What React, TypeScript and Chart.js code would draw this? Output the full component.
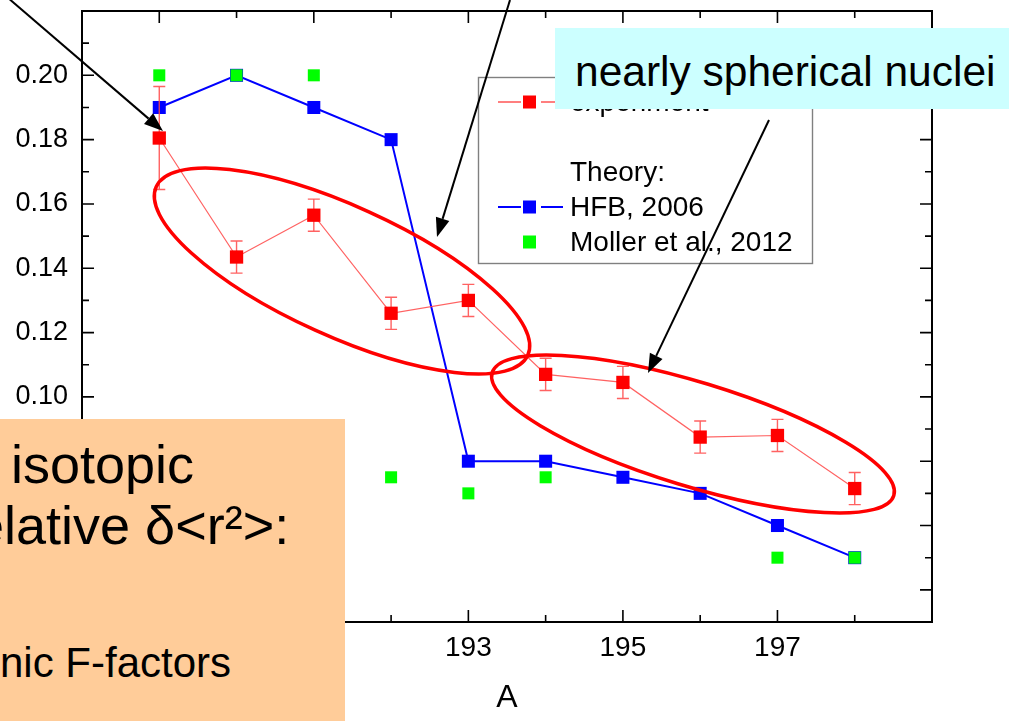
import React, { useEffect, useRef } from "react";
import { Chart, registerables } from "chart.js";

Chart.register(...registerables);

// ---------- data ----------
const massNumbers = [189, 190, 191, 192, 193, 194, 195, 196, 197, 198];
const experimentValues = [0.1805, 0.1435, 0.1565, 0.126, 0.13, 0.107, 0.1045, 0.0875, 0.088, 0.0715];
const experimentErrors = [0.016, 0.005, 0.005, 0.005, 0.005, 0.005, 0.005, 0.005, 0.005, 0.005];
const hfbValues = [0.19, 0.2, 0.19, 0.18, 0.08, 0.08, 0.075, 0.07, 0.06, 0.05];
const mollerMassNumbers = [189, 190, 191, 192, 193, 194, 197, 198];
const mollerValues = [0.2, 0.2, 0.2, 0.075, 0.07, 0.075, 0.05, 0.05];
const xTickLabels = [189, 191, 193, 195, 197];
const yTickLabels = [0.04, 0.06, 0.08, 0.1, 0.12, 0.14, 0.16, 0.18, 0.2];
const legendLabels = ["experiment", "Theory:", "HFB, 2006", "Moller et al., 2012"];

const FONT = '"Liberation Sans", Arial, Helvetica, sans-serif';
const RED = "#ff0000";
const RED_LIGHT = "rgba(255,70,70,0.85)";
const BLUE = "#0000ff";
const GREEN = "#00ff00";

function drawArrow(ctx: CanvasRenderingContext2D, x1: number, y1: number, x2: number, y2: number) {
  const ang = Math.atan2(y2 - y1, x2 - x1);
  const hl = 19;
  const hw = 7;
  const bx = x2 - hl * Math.cos(ang);
  const by = y2 - hl * Math.sin(ang);
  ctx.save();
  ctx.strokeStyle = "#000";
  ctx.fillStyle = "#000";
  ctx.lineWidth = 2;
  ctx.beginPath();
  ctx.moveTo(x1, y1);
  ctx.lineTo(bx, by);
  ctx.stroke();
  ctx.beginPath();
  ctx.moveTo(x2, y2);
  ctx.lineTo(bx + hw * Math.sin(ang), by - hw * Math.cos(ang));
  ctx.lineTo(bx - hw * Math.sin(ang), by + hw * Math.cos(ang));
  ctx.closePath();
  ctx.fill();
  ctx.restore();
}

const framePlugin = {
  id: "frameTicks",
  beforeDatasetsDraw(chart: any) {
    const { ctx, chartArea } = chart;
    const xs = chart.scales.x;
    const ys = chart.scales.y;
    ctx.save();
    ctx.strokeStyle = "#000";
    ctx.lineWidth = 2;
    ctx.strokeRect(chartArea.left, chartArea.top, chartArea.right - chartArea.left, chartArea.bottom - chartArea.top);
    ctx.lineWidth = 1.6;
    ctx.beginPath();
    for (let a = 189; a <= 198; a++) {
      const px = xs.getPixelForValue(a);
      const len = a % 2 === 1 ? 12 : 7;
      ctx.moveTo(px, chartArea.bottom);
      ctx.lineTo(px, chartArea.bottom - len);
      ctx.moveTo(px, chartArea.top);
      ctx.lineTo(px, chartArea.top + len);
    }
    for (let i = 4; i <= 21; i++) {
      const py = ys.getPixelForValue(i / 100);
      const len = i % 2 === 0 ? 12 : 7;
      ctx.moveTo(chartArea.left, py);
      ctx.lineTo(chartArea.left + len, py);
      ctx.moveTo(chartArea.right, py);
      ctx.lineTo(chartArea.right - len, py);
    }
    ctx.stroke();
    ctx.restore();
  },
};

const errorBarPlugin = {
  id: "errorBars",
  beforeDatasetDraw(chart: any, args: any) {
    if (args.index !== 1) return;
    const { ctx } = chart;
    const xs = chart.scales.x;
    const ys = chart.scales.y;
    ctx.save();
    ctx.strokeStyle = RED_LIGHT;
    ctx.lineWidth = 1.4;
    ctx.beginPath();
    massNumbers.forEach((a, i) => {
      const px = xs.getPixelForValue(a);
      const top = ys.getPixelForValue(experimentValues[i] + experimentErrors[i]);
      const bot = ys.getPixelForValue(experimentValues[i] - experimentErrors[i]);
      ctx.moveTo(px, top);
      ctx.lineTo(px, bot);
      ctx.moveTo(px - 6, top);
      ctx.lineTo(px + 6, top);
      ctx.moveTo(px - 6, bot);
      ctx.lineTo(px + 6, bot);
    });
    ctx.stroke();
    ctx.restore();
  },
};

const overlayPlugin = {
  id: "overlay",
  afterDraw(chart: any) {
    const { ctx } = chart;
    ctx.save();
    // legend box
    ctx.fillStyle = "#fff";
    ctx.fillRect(478.5, 77.5, 334, 186);
    ctx.strokeStyle = "#808080";
    ctx.lineWidth = 1.4;
    ctx.strokeRect(478.5, 77.5, 334, 186);
    const rows = [102, 172, 207, 242];
    const sym = (y: number, color: string, line: boolean, lw: number) => {
      if (line) {
        ctx.strokeStyle = color;
        ctx.lineWidth = lw;
        ctx.beginPath();
        ctx.moveTo(498, y);
        ctx.lineTo(521, y);
        ctx.moveTo(541, y);
        ctx.lineTo(563, y);
        ctx.stroke();
      }
      ctx.fillStyle = color;
      ctx.fillRect(523, y - 6.5, 13, 13);
    };
    sym(rows[0], RED, true, 1.2);
    sym(rows[2], BLUE, true, 2);
    sym(rows[3], GREEN, false, 0);
    ctx.fillStyle = "#000";
    ctx.font = `28px ${FONT}`;
    ctx.textBaseline = "middle";
    ctx.textAlign = "left";
    legendLabels.forEach((t, i) => ctx.fillText(t, 570, rows[i] + 1));

    // ellipses
    ctx.strokeStyle = RED;
    ctx.lineWidth = 3.5;
    ctx.beginPath();
    ctx.ellipse(342, 271, 204, 65, (24.4 * Math.PI) / 180, 0, Math.PI * 2);
    ctx.stroke();
    ctx.beginPath();
    ctx.ellipse(693, 434, 210, 52, (17 * Math.PI) / 180, 0, Math.PI * 2);
    ctx.stroke();
    ctx.restore();

    drawArrow(ctx, 0, -9, 163, 131);
    drawArrow(ctx, 510, 0, 437, 237);
    drawArrow(ctx, 769, 120, 648, 373);
  },
};

export default function App() {
  const canvasRef = useRef<HTMLCanvasElement | null>(null);

  useEffect(() => {
    document.body.style.margin = "0";
    const canvas = canvasRef.current;
    if (!canvas) return;
    const chart = new Chart(canvas, {
      type: "line",
      data: {
        datasets: [
          {
            label: "Moller et al., 2012",
            data: mollerMassNumbers.map((a, i) => ({ x: a, y: mollerValues[i] })),
            showLine: false,
            pointStyle: "rect",
            pointRadius: 8.5,
            pointBorderWidth: 0,
            pointBackgroundColor: GREEN,
            backgroundColor: GREEN,
            borderColor: GREEN,
          },
          {
            label: "experiment",
            data: massNumbers.map((a, i) => ({ x: a, y: experimentValues[i] })),
            borderColor: RED_LIGHT,
            borderWidth: 1.2,
            pointStyle: "rect",
            pointRadius: 9.4,
            pointBorderWidth: 0,
            pointBackgroundColor: RED,
            backgroundColor: RED,
          },
          {
            label: "HFB, 2006",
            data: massNumbers.map((a, i) => ({ x: a, y: hfbValues[i] })),
            borderColor: BLUE,
            borderWidth: 2,
            pointStyle: "rect",
            pointRadius: 9.2,
            pointBorderWidth: 0,
            pointBackgroundColor: BLUE,
            backgroundColor: BLUE,
          },
        ],
      },
      options: {
        animation: false,
        responsive: false,
        devicePixelRatio: 1,
        layout: { padding: { left: 0, top: 11, right: 77, bottom: 0 } },
        plugins: { legend: { display: false }, tooltip: { enabled: false }, title: { display: false } },
        elements: { line: { tension: 0 } },
        scales: {
          x: {
            type: "linear",
            min: 188,
            max: 199,
            grid: { display: false, drawTicks: false },
            border: { display: false },
            afterBuildTicks: (scale: any) => {
              scale.ticks = xTickLabels.map((v) => ({ value: v }));
            },
            afterFit: (scale: any) => {
              scale.height = 99;
              scale.paddingLeft = 0;
              scale.paddingRight = 0;
            },
            ticks: {
              autoSkip: false,
              maxRotation: 0,
              padding: 9,
              color: "#000",
              font: { family: FONT, size: 28 },
              callback: (v: any) => String(v),
            },
            title: {
              display: true,
              text: "A",
              color: "#000",
              font: { family: FONT, size: 32 },
              padding: { top: 0, bottom: 4 },
            },
          },
          y: {
            type: "linear",
            min: 0.03,
            max: 0.22,
            grid: { display: false, drawTicks: false },
            border: { display: false },
            afterBuildTicks: (scale: any) => {
              scale.ticks = yTickLabels.map((v) => ({ value: v }));
            },
            afterFit: (scale: any) => {
              scale.width = 82;
              scale.paddingTop = 0;
              scale.paddingBottom = 0;
            },
            ticks: {
              autoSkip: false,
              padding: 14,
              color: "#000",
              font: { family: FONT, size: 27 },
              callback: (v: any) => Number(v).toFixed(2),
            },
          },
        },
      },
      plugins: [framePlugin, errorBarPlugin, overlayPlugin],
    } as any);
    return () => chart.destroy();
  }, []);

  const textStyle = (size: number): React.CSSProperties => ({
    position: "absolute",
    fontFamily: FONT,
    fontSize: size,
    lineHeight: `${size}px`,
    color: "#000",
    whiteSpace: "pre",
  });

  return (
    <div style={{ position: "fixed", left: 0, top: 0, width: 1009, height: 721, overflow: "hidden", background: "#fff" }}>
      <canvas ref={canvasRef} width={1009} height={721} style={{ position: "absolute", left: 0, top: 0, width: 1009, height: 721 }} />
      <div style={{ position: "absolute", left: 555, top: 28, width: 454, height: 81, background: "#ccffff" }}>
        <div style={{ ...textStyle(42.5), left: 20, top: 23 }}>nearly spherical nuclei</div>
      </div>
      <div style={{ position: "absolute", left: 0, top: 419, width: 345, height: 302, background: "#ffcc99", overflow: "hidden" }}>
        <div style={{ ...textStyle(54), left: 11, top: 18 }}>isotopic</div>
        <div style={{ ...textStyle(54), left: -44, top: 79 }}>relative δ&lt;r²&gt;:</div>
        <div style={{ ...textStyle(42), left: 0, top: 223 }}>nic F-factors</div>
      </div>
    </div>
  );
}
